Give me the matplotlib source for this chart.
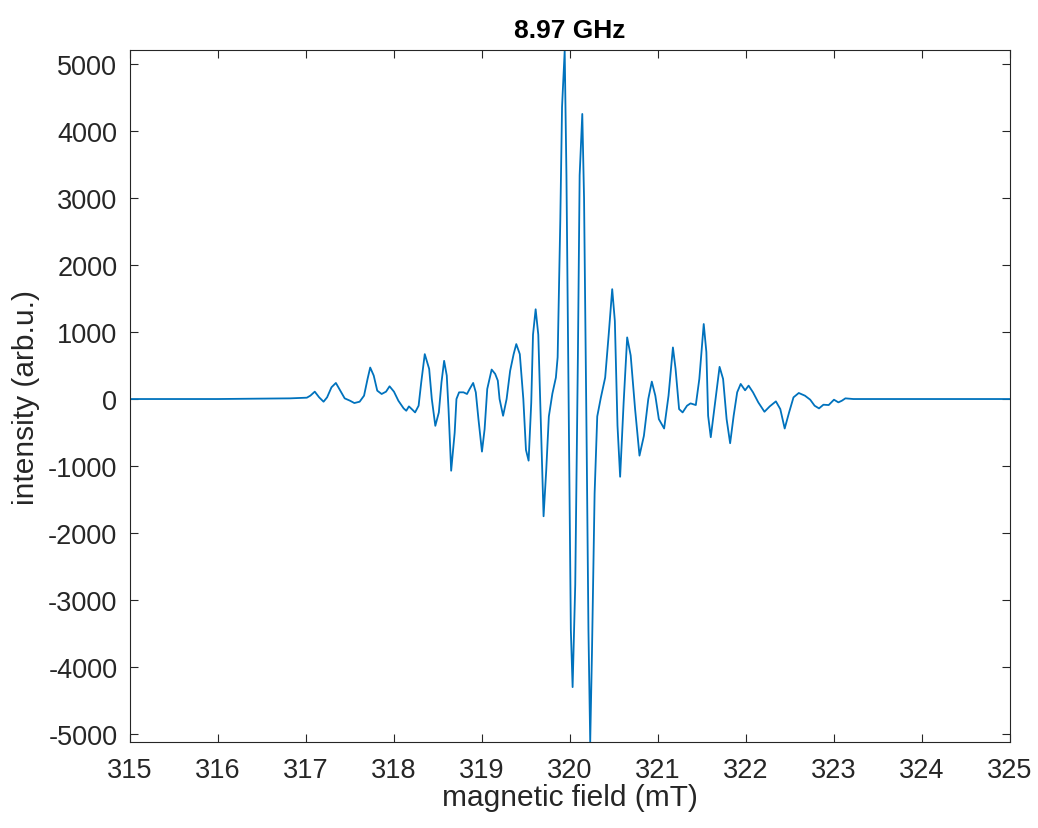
import numpy as np
import matplotlib
matplotlib.use("Agg")
import matplotlib.pyplot as plt

# EPR spectrum (field in mT, intensity in arb.u.)
field = [315.00, 316.00, 316.82, 317.01, 317.05, 317.10, 317.15, 317.20, 317.24, 317.29,
         317.34, 317.39, 317.44, 317.50, 317.55, 317.61, 317.66, 317.70, 317.73, 317.77,
         317.81, 317.86, 317.91, 317.95, 318.00, 318.05, 318.11, 318.14, 318.17, 318.21,
         318.24, 318.28, 318.31, 318.35, 318.40, 318.43, 318.47, 318.51, 318.54, 318.57,
         318.60, 318.62, 318.65, 318.69, 318.71, 318.74, 318.79, 318.83, 318.86, 318.90,
         318.93, 318.96, 319.00, 319.03, 319.06, 319.11, 319.15, 319.18, 319.20, 319.24,
         319.28, 319.32, 319.36, 319.39, 319.43, 319.47, 319.50, 319.53, 319.56, 319.58,
         319.61, 319.64, 319.67, 319.70, 319.73, 319.76, 319.80, 319.84, 319.86, 319.89,
         319.91, 319.94, 319.96, 319.99, 320.01, 320.03, 320.06, 320.09, 320.11, 320.14,
         320.16, 320.19, 320.21, 320.23, 320.25, 320.28, 320.31, 320.35, 320.40, 320.44,
         320.48, 320.51, 320.54, 320.57, 320.61, 320.65, 320.69, 320.74, 320.79, 320.84,
         320.89, 320.93, 320.97, 321.01, 321.07, 321.12, 321.17, 321.20, 321.24, 321.28,
         321.33, 321.37, 321.43, 321.47, 321.52, 321.55, 321.57, 321.60, 321.65, 321.70,
         321.74, 321.78, 321.82, 321.86, 321.90, 321.94, 321.99, 322.03, 322.08, 322.14,
         322.21, 322.27, 322.34, 322.39, 322.44, 322.49, 322.54, 322.60, 322.67, 322.73,
         322.78, 322.83, 322.88, 322.94, 323.00, 323.05, 323.09, 323.13, 323.22, 323.40,
         324.00, 325.00]
intensity = [0, 0, 10, 20, 50, 110, 25, -40, 25, 175,
             240, 125, 10, -25, -60, -40, 50, 300, 470, 350,
             125, 75, 110, 190, 110, -25, -140, -175, -110, -160,
             -200, -100, 250, 670, 450, 0, -400, -200, 250, 570,
             350, -150, -1070, -500, 0, 100, 100, 75, 150, 240,
             100, -300, -785, -450, 150, 440, 375, 275, 0, -250,
             0, 420, 670, 820, 670, 0, -760, -920, -55, 960,
             1340, 960, -395, -1750, -1070, -260, 80, 320, 625, 2660,
             4360, 5200, 3340, -730, -3450, -4300, -2770, 625, 3340, 4255,
             3000, -730, -3450, -5120, -3790, -1410, -260, 15, 320, 960,
             1640, 1165, -395, -1160, -50, 920, 650, -150, -845, -550,
             0, 260, 50, -300, -440, 50, 770, 450, -150, -200,
             -100, -65, -90, 300, 1120, 700, -250, -570, -50, 480,
             300, -300, -660, -250, 100, 225, 130, 200, 100, -50,
             -190, -110, -35, -150, -440, -200, 25, 90, 50, -10,
             -100, -140, -85, -90, -10, -50, -25, 10, 0, 0,
             0, 0]

plt.rcParams['font.family'] = ['Liberation Sans', 'DejaVu Sans']
plt.rcParams['axes.unicode_minus'] = False
dark = '#262626'

fig = plt.figure(figsize=(10.38, 8.29), dpi=100)
ax = fig.add_axes([0.1252, 0.1037, 0.8478, 0.8348])
ax.plot(field, intensity, color='#0072BD', linewidth=1.3)

ax.set_xlim(315, 325)
ax.set_ylim(-5120, 5210)
ax.set_xticks(np.arange(315, 326, 1))
ax.set_yticks(np.arange(-5000, 5001, 1000))

ax.tick_params(direction='in', top=True, right=True, length=6, width=0.8,
               labelsize=19.5, colors=dark)
ax.tick_params(axis='x', pad=11)
ax.tick_params(axis='y', pad=9)
for s in ax.spines.values():
    s.set_color(dark)
    s.set_linewidth(0.8)

ax.set_xlabel('magnetic field (mT)', fontsize=21.5, color=dark, labelpad=0)
ax.set_ylabel('intensity (arb.u.)', fontsize=21.5, color=dark, labelpad=6)
ax.set_title('8.97 GHz', fontsize=19, fontweight='bold', color='black', pad=9)

fig.savefig('out.png', dpi=100)
